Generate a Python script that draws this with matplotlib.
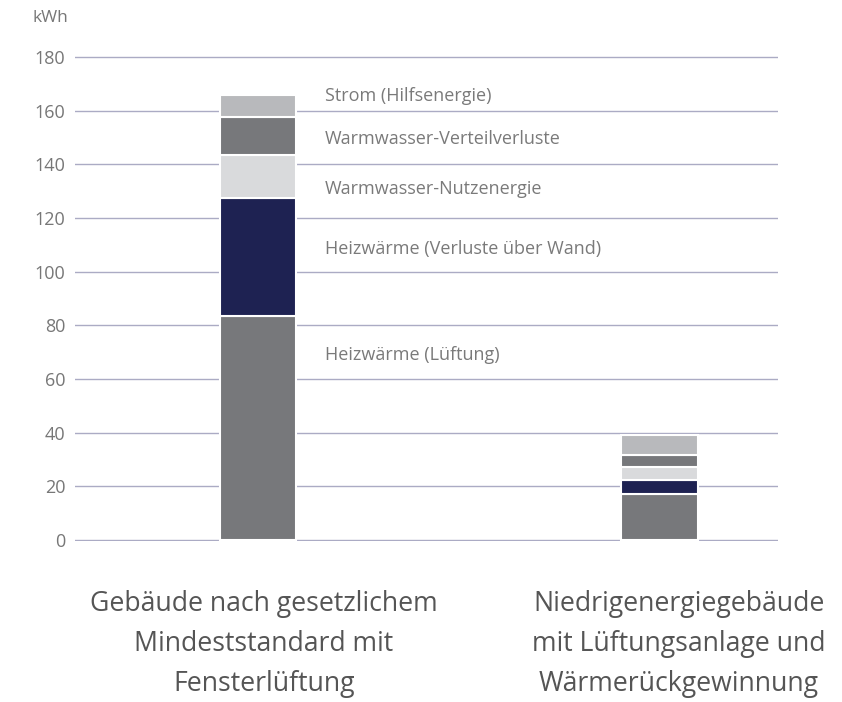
import matplotlib
matplotlib.use("Agg")
import matplotlib.pyplot as plt
import numpy as np

plt.rcParams['font.family'] = ['Open Sans', 'DejaVu Sans']

# data (kWh)
buildings = ["Gebäude nach gesetzlichem\nMindeststandard mit\nFensterlüftung",
             "Niedrigenergiegebäude\nmit Lüftungsanlage und\nWärmerückgewinnung"]
components = ["Heizwärme (Lüftung)", "Heizwärme (Verluste über Wand)",
              "Warmwasser-Nutzenergie", "Warmwasser-Verteilverluste",
              "Strom (Hilfsenergie)"]
lueftung = [83.3, 17.3]
wand = [44.0, 5.1]
ww_nutz = [16.3, 4.9]
ww_verteil = [14.2, 4.2]
strom = [8.2, 7.8]

colors = ["#77787b", "#1e2252", "#d9dadc", "#77787b", "#b8b9bc"]
label_y = [68.8, 108.3, 130.8, 149.3, 165.5]  # where the component labels sit
name_dx = [0.015, 0.048]  # category labels sit a bit right of the bars

fig = plt.figure(figsize=(8.42, 7.02), dpi=100)
ax = fig.add_axes([0.089, 0.2293, 0.835, 0.6909])

x = np.arange(len(buildings))
bottom = np.zeros(len(buildings))
for vals, col in zip([lueftung, wand, ww_nutz, ww_verteil, strom], colors):
    ax.bar(x, vals, bottom=bottom, width=0.19, color=col,
           edgecolor="white", linewidth=1.5, zorder=3)
    bottom += np.array(vals)

for name, yy in zip(components, label_y):
    ax.text(0.167, yy, name, fontsize=13, color="#7a7a7a",
            va="center", ha="left", zorder=4)

ax.set_ylim(-0.4, 180.4)
ax.set_xlim(-0.456, 1.295)
ax.set_yticks(np.arange(0, 181, 20))
ax.yaxis.grid(True, color="#ababc4", linewidth=1)
ax.set_axisbelow(True)
ax.tick_params(axis="y", length=0, pad=7, labelsize=13, labelcolor="#777777")
ax.set_xticks([])
for s in ax.spines.values():
    s.set_visible(False)

for xi, dx, name in zip(x, name_dx, buildings):
    ax.text(xi + dx, -18.5, name, ha="center", va="top", fontsize=19.2,
            color="#555555", linespacing=1.58)

fig.text(33 / 842, 1 - 18 / 702, "kWh", fontsize=12.5, color="#777777",
         ha="left", va="center")

fig.savefig("out.png", dpi=100)
